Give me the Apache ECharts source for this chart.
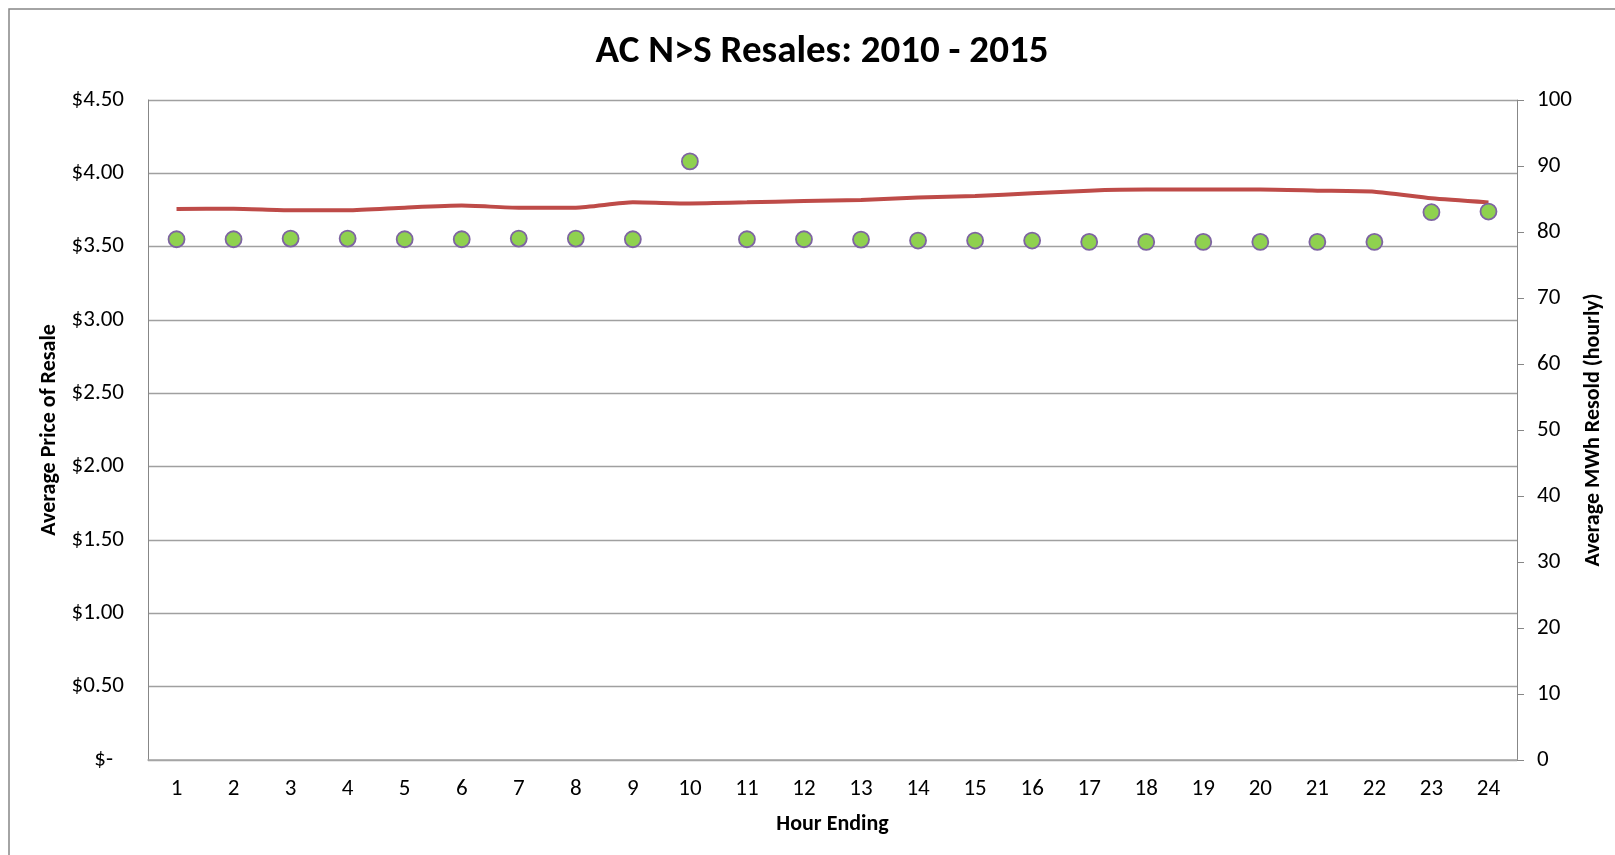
<!DOCTYPE html>
<html>
<head>
<meta charset="utf-8">
<title>AC N>S Resales</title>
<script src="https://cdn.jsdelivr.net/npm/echarts@6/dist/echarts.min.js"></script>
<style>
  html, body { margin: 0; padding: 0; background: #fff; }
  #chartRef { width: 1615px; height: 855px; }
</style>
</head>
<body>
<div id="chartRef"></div>
<script>
// hour ending 1..24
const hours = ['1', '2', '3', '4', '5', '6', '7', '8', '9', '10', '11', '12',
  '13', '14', '15', '16', '17', '18', '19', '20', '21', '22', '23', '24']
// average price of resale ($) - left axis
const priceData = [3.757, 3.759, 3.748, 3.748, 3.766, 3.780, 3.766, 3.766, 3.802, 3.795, 3.802, 3.811,
  3.818, 3.836, 3.845, 3.864, 3.882, 3.889, 3.889, 3.889, 3.882, 3.875, 3.830, 3.802]
// average MWh resold (hourly) - right axis
const mwhData = [78.9, 78.9, 79.0, 79.0, 78.9, 78.9, 79.0, 79.0, 78.9, 90.7, 78.9, 78.9,
  78.85, 78.7, 78.7, 78.7, 78.5, 78.5, 78.5, 78.5, 78.5, 78.5, 83.0, 83.1]

const FONT = 'Carlito, Lato, "Open Sans", sans-serif'

const showChart = () => {
  const myChart = echarts.init(document.getElementById('chartRef'))

  const option = {
    backgroundColor: '#fff',
    animation: false,
    title: {
      text: 'AC N>S Resales: 2010 - 2015',
      left: 817,
      top: 28,
      textAlign: 'center',
      textStyle: { fontFamily: FONT, fontSize: 39, fontWeight: 'bold', color: '#000' }
    },
    // outer chart border
    graphic: [{
      type: 'rect',
      shape: { x: 9, y: 9, width: 1640, height: 900 },
      style: { fill: 'none', stroke: '#878787', lineWidth: 1.5 },
      silent: true
    }],
    grid: { left: 148, right: 98, top: 100, bottom: 95 },
    xAxis: {
      type: 'category',
      data: hours,
      boundaryGap: true,
      name: 'Hour Ending',
      nameLocation: 'middle',
      nameGap: 53,
      nameTextStyle: { fontFamily: FONT, fontSize: 22, fontWeight: 'bold', color: '#000' },
      axisLine: { lineStyle: { color: '#a6a6a6', width: 1.5 } },
      axisTick: { show: false },
      axisLabel: { fontFamily: FONT, fontSize: 23, color: '#000', margin: 18 },
      splitLine: { show: false }
    },
    yAxis: [
      {
        type: 'value',
        min: 0,
        max: 4.5,
        interval: 0.5,
        name: 'Average Price of Resale',
        nameLocation: 'middle',
        nameRotate: 90,
        nameGap: 86,
        nameTextStyle: { fontFamily: FONT, fontSize: 22, fontWeight: 'bold', color: '#000' },
        axisLine: { show: true, lineStyle: { color: '#878787', width: 1 } },
        axisTick: { show: false },
        axisLabel: {
          fontFamily: FONT, fontSize: 23, color: '#000', margin: 24,
          formatter: v => v === 0 ? '{d|$-}' : '$' + v.toFixed(2),
          rich: { d: { fontFamily: FONT, fontSize: 23, color: '#000', padding: [0, 11, 0, 0] } }
        },
        splitLine: { lineStyle: { color: '#a0a0a0', width: 1.3 } }
      },
      {
        type: 'value',
        min: 0,
        max: 100,
        interval: 10,
        name: 'Average MWh Resold (hourly)',
        nameLocation: 'middle',
        nameRotate: 90,
        nameGap: 64,
        nameTextStyle: { fontFamily: FONT, fontSize: 22, fontWeight: 'bold', color: '#000' },
        axisLine: { show: true, lineStyle: { color: '#878787', width: 1 } },
        axisTick: { show: true, length: 7, lineStyle: { color: '#878787' } },
        axisLabel: { fontFamily: FONT, fontSize: 23, color: '#000', margin: 20 },
        splitLine: { show: false }
      }
    ],
    series: [
      {
        name: 'Average Price of Resale',
        type: 'line',
        yAxisIndex: 0,
        data: priceData,
        smooth: 0.2,
        showSymbol: false,
        lineStyle: { color: '#be4b48', width: 4 },
        z: 2
      },
      {
        name: 'Average MWh Resold',
        type: 'scatter',
        yAxisIndex: 1,
        data: mwhData,
        symbol: 'circle',
        symbolSize: 16,
        itemStyle: { color: '#8fd14f', borderColor: '#7e64a2', borderWidth: 1.8, opacity: 1 },
        z: 3
      }
    ]
  }
  option && myChart.setOption(option)
}

showChart()
</script>
</body>
</html>
